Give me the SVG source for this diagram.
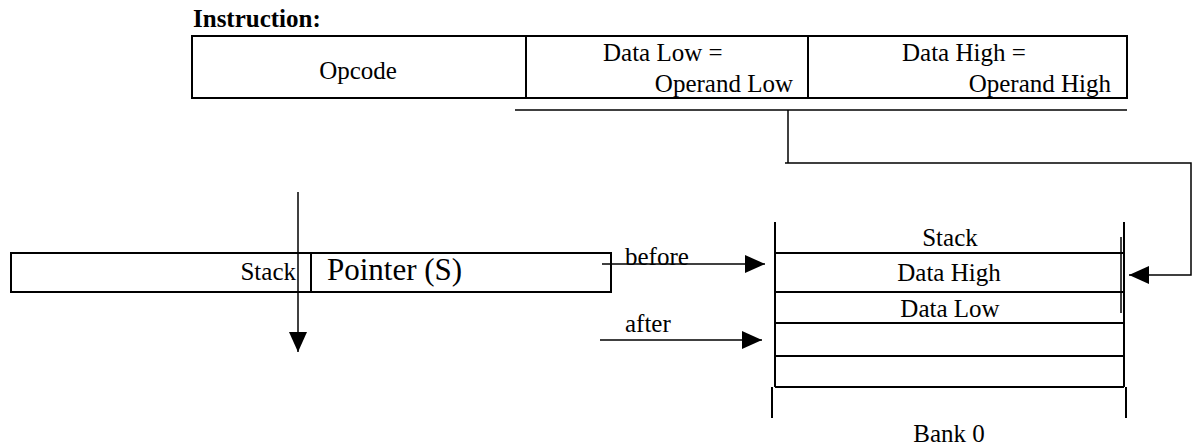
<svg xmlns="http://www.w3.org/2000/svg" width="1193" height="447" viewBox="0 0 1193 447">
<style>
.ln{stroke:#000;stroke-width:2;fill:none}
.thin{stroke:#000;stroke-width:1.5;fill:none}
.t{font-family:"Liberation Serif",serif;font-size:25px;fill:#000}
.b{font-family:"Liberation Serif",serif;font-size:25px;font-weight:bold;fill:#000}
.big{font-family:"Liberation Serif",serif;font-size:31px;fill:#000}
</style>
<defs>
<marker id="ah" markerWidth="20" markerHeight="18" refX="20" refY="9" orient="auto" markerUnits="userSpaceOnUse">
<path d="M0,0 L20,9 L0,18 Z" fill="#000"/>
</marker>
</defs>
<g id="instruction">
<text class="b" x="193" y="27">Instruction:</text>
<rect class="ln" x="192" y="36" width="935" height="62"/>
<line class="ln" x1="526" y1="36" x2="526" y2="98"/>
<line class="ln" x1="808" y1="36" x2="808" y2="98"/>
<text class="t" x="358" y="79" text-anchor="middle">Opcode</text>
<text class="t" x="603" y="61">Data Low =</text>
<text class="t" x="793" y="92" text-anchor="end">Operand Low</text>
<text class="t" x="902" y="61">Data High =</text>
<text class="t" x="1111" y="92" text-anchor="end">Operand High</text>
</g>
<g id="stack-pointer">
<rect class="ln" x="11" y="253" width="600" height="39"/>
<line class="ln" x1="311" y1="253" x2="311" y2="292"/>
<text class="t" x="296" y="280" text-anchor="end">Stack</text>
<text class="big" x="327" y="280">Pointer (S)</text>
</g>
<g id="stack-memory">
<line class="ln" x1="775" y1="222" x2="775" y2="387"/>
<line class="ln" x1="1124" y1="222" x2="1124" y2="387"/>
<line class="thin" x1="1121" y1="237" x2="1121" y2="313"/>
<line class="ln" x1="775" y1="253" x2="1124" y2="253"/>
<line class="ln" x1="775" y1="292" x2="1124" y2="292"/>
<line class="ln" x1="775" y1="323" x2="1124" y2="323"/>
<line class="ln" x1="775" y1="356" x2="1124" y2="356"/>
<line class="ln" x1="775" y1="387" x2="1124" y2="387"/>
<line class="ln" x1="772" y1="387" x2="772" y2="418"/>
<line class="ln" x1="1126" y1="387" x2="1126" y2="418"/>
<text class="t" x="950" y="246" text-anchor="middle">Stack</text>
<text class="t" x="949" y="281" text-anchor="middle">Data High</text>
<text class="t" x="950" y="317" text-anchor="middle">Data Low</text>
<text class="t" x="949" y="442" text-anchor="middle">Bank 0</text>
</g>
<g id="connectors">
<polyline class="thin" points="515,110 1127,110"/>
<polyline class="thin" points="788,110 788,163"/>
<polyline class="thin" points="785,163 1191,163 1191,275 1129,275" marker-end="url(#ah)"/>
<line class="thin" x1="298" y1="192" x2="298" y2="352" marker-end="url(#ah)"/>
<line class="thin" x1="602" y1="264" x2="765" y2="264" marker-end="url(#ah)"/>
<text class="t" x="625" y="265">before</text>
<line class="thin" x1="600" y1="340" x2="762" y2="340" marker-end="url(#ah)"/>
<text class="t" x="625" y="332">after</text>
</g>
</svg>
